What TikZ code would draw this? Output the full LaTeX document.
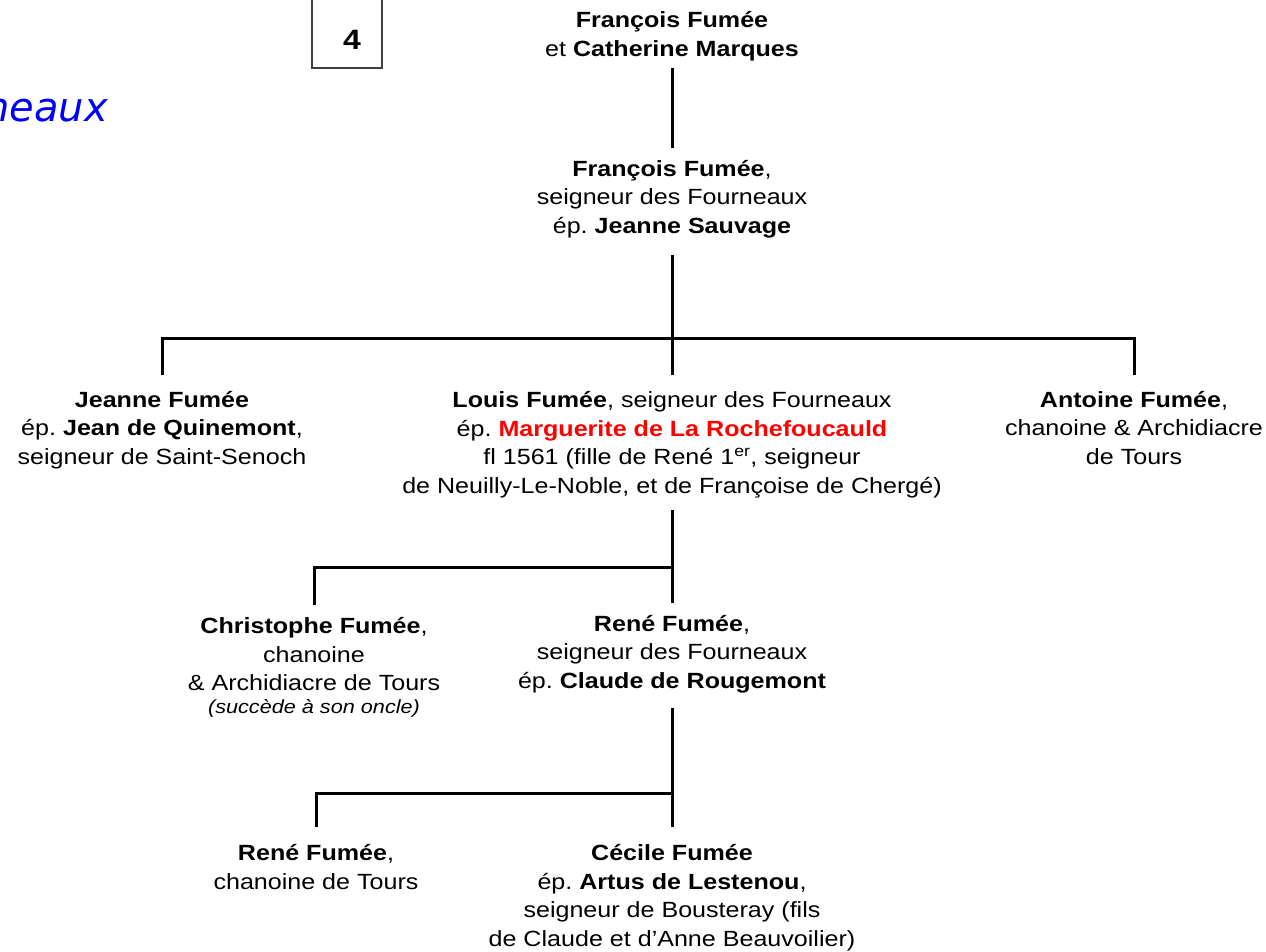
\documentclass[tikz,border=0pt]{standalone}
\usepackage{fontspec}
\setmainfont{Liberation Sans}[FakeStretch=1.14]
\newfontfamily\titlefont{DejaVu Sans}
\frenchspacing

\begin{document}
\begin{tikzpicture}[x=1pt, y=-1pt,
        person/.style={align=center, inner sep=0pt, anchor=base, font=\fontsize{22}{28.5}\selectfont},
        link/.style={line width=3pt}]
    \useasboundingbox (0,0) rectangle (1266,951);
    \draw[line width=1.2pt, black!75] (312,-10) rectangle (382,68);
    \node[anchor=base, font=\fontsize{28}{30}\selectfont\bfseries] (num) at (352,49) {4};
    \node[anchor=base east, inner sep=0pt, text=blue, font=\titlefont\itshape\fontsize{40}{42}\selectfont] (title) at (108,121) {neaux};

    \node[person] (top) at (672,56) {\textbf{François Fumée}\\ et \textbf{Catherine Marques}};
    \node[person] (fr) at (672,233) {\textbf{François Fumée},\\ seigneur des Fourneaux\\ ép. \textbf{Jeanne Sauvage}};

    \node[person] (jeanne) at (162,464) {\textbf{Jeanne Fumée}\\ ép. \textbf{Jean de Quinemont},\\ seigneur de Saint-Senoch};
    \node[person] (louis) at (672,493) {\textbf{Louis Fumée}, seigneur des Fourneaux\\ ép. \textcolor{red}{\textbf{Marguerite de La Rochefoucauld}}\\ fl 1561 (fille de René 1\textsuperscript{er}, seigneur\\ de Neuilly-Le-Noble, et de Françoise de Chergé)};
    \node[person] (antoine) at (1134,464) {\textbf{Antoine Fumée},\\ chanoine \& Archidiacre\\ de Tours};

    \node[person] (chris) at (314,713) {\textbf{Christophe Fumée},\\ chanoine\\ \& Archidiacre de Tours\\[-6pt] {\fontsize{19}{25}\selectfont\itshape (succède à son oncle)}};
    \node[person] (rene) at (672,688) {\textbf{René Fumée},\\ seigneur des Fourneaux\\ ép. \textbf{Claude de Rougemont}};

    \node[person] (rene2) at (316,889) {\textbf{René Fumée},\\ chanoine de Tours};
    \node[person] (cecile) at (672,946) {\textbf{Cécile Fumée}\\ ép. \textbf{Artus de Lestenou},\\ seigneur de Bousteray (fils\\ de Claude et d’Anne Beauvoilier)};

    \coordinate (b1) at (672,338);
    \coordinate (b2) at (672,567);
    \coordinate (b3) at (672,793);
    \draw[link, shorten <=7pt, shorten >=12pt] (top.south) -- (fr.north);
    \draw[link, shorten <=17pt, shorten >=16pt] (fr.south) -- (louis.north);
    \draw[link, shorten <=16pt, shorten >=16pt] (jeanne.north) |- (b1) -| (antoine.north);
    \draw[link, shorten <=12pt, shorten >=12pt] (louis.south) -- (rene.north);
    \draw[link, shorten >=12pt] (b2) -| (chris.north);
    \draw[link, shorten <=15pt, shorten >=17pt] (rene.south) -- (cecile.north);
    \draw[link, shorten >=17pt] (b3) -| (rene2.north);
\end{tikzpicture}
\end{document}
